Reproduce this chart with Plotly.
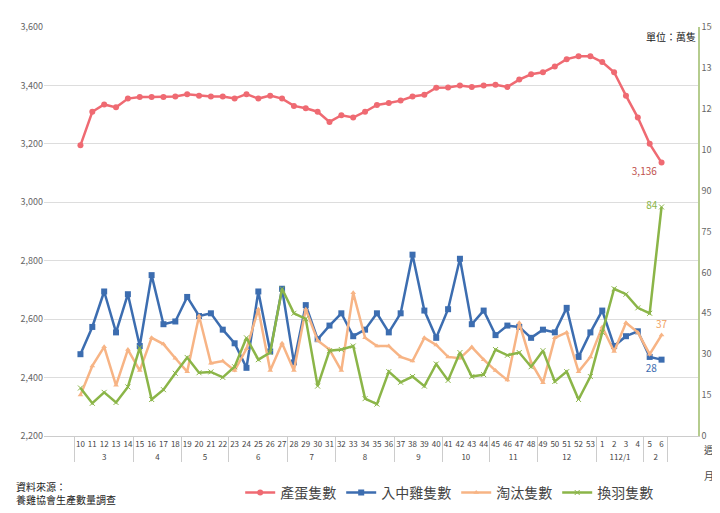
import plotly.graph_objects as go

# week / month categories
weeks = [str(w) for w in range(10, 54)] + [str(w) for w in range(1, 7)]
month_of_week = (["3"] * 5 + ["4"] * 4 + ["5"] * 4 + ["6"] * 5 + ["7"] * 4 + ["8"] * 5 +
                 ["9"] * 4 + ["10"] * 4 + ["11"] * 4 + ["12"] * 5 + ["112/1"] * 4 + ["2"] * 2)

# 產蛋隻數 (left axis)
eggs = [3195, 3310, 3335, 3325, 3355, 3360, 3360, 3360, 3362, 3370,
        3365, 3362, 3362, 3355, 3370, 3355, 3365, 3355, 3330, 3322,
        3310, 3275, 3298, 3290, 3310, 3333, 3340, 3348, 3362, 3368,
        3392, 3393, 3400, 3395, 3400, 3402, 3395, 3420, 3438, 3445,
        3465, 3490, 3500, 3500, 3480, 3445, 3365, 3290, 3200, 3136]
# 入中雞隻數 (right axis)
chicks = [30, 40, 53, 38, 52, 33, 59, 41, 42, 51,
          44, 45, 39, 34, 25, 53, 31, 54, 27, 48,
          35.5, 40.5, 45, 36.6, 39, 45, 38, 45, 66.5, 46,
          36, 46.5, 65, 41, 46, 37, 40.5, 40, 36, 39,
          38, 47, 29, 38, 46, 33, 36.6, 38.4, 29, 28]
# 淘汰隻數
culled = [15, 25.7, 32.7, 18.6, 31.7, 24, 36, 33.7, 28.5, 23.6,
          44, 26.7, 27.5, 24, 32, 46.5, 24, 34, 24, 46.5,
          35, 31.7, 24, 52.5, 36, 33, 33, 29, 27.5, 36,
          33.4, 29, 28.5, 32.6, 28, 24, 20.5, 41.5, 27, 19.5,
          36, 38, 23.6, 29, 40, 31, 41.5, 38, 30, 37]
# 換羽隻數
molted = [17.6, 12, 16, 12.3, 18, 32.4, 13.4, 17, 23, 28.8,
          23.2, 23.5, 21.5, 25.4, 36, 28, 30.6, 54, 45, 43,
          18.3, 31.3, 31.7, 33, 13.7, 11.7, 23.6, 19.7, 21.8, 18.3,
          26.4, 20.4, 30.6, 21.8, 22.5, 31.7, 29.6, 30.6, 25.4, 31.3,
          20, 23.6, 13.4, 21.8, 38, 54, 52, 47, 45, 84]

x = [month_of_week, weeks]
n = len(weeks)


def end_label(vals, fmt):
    return [""] * (n - 1) + [fmt.format(vals[-1])]


fig = go.Figure()
fig.add_trace(go.Scatter(x=x, y=eggs, name="產蛋隻數", mode="lines+markers+text",
                         line=dict(color="#EF6A72", width=2.5), marker=dict(symbol="circle", size=6),
                         text=end_label(eggs, "{:,}"), textposition="bottom left",
                         textfont=dict(color="#C0504D", size=10)))
fig.add_trace(go.Scatter(x=x, y=chicks, name="入中雞隻數", yaxis="y2", mode="lines+markers+text",
                         line=dict(color="#3C6DB0", width=2.5), marker=dict(symbol="square", size=6),
                         text=end_label(chicks, "{:g}"), textposition="bottom left",
                         textfont=dict(color="#3C6DB0", size=10)))
fig.add_trace(go.Scatter(x=x, y=culled, name="淘汰隻數", yaxis="y2", mode="lines+markers+text",
                         line=dict(color="#F7B485", width=2.5), marker=dict(symbol="triangle-up", size=5),
                         text=end_label(culled, "{:g}"), textposition="top center",
                         textfont=dict(color="#F0A060", size=10)))
fig.add_trace(go.Scatter(x=x, y=molted, name="換羽隻數", yaxis="y2", mode="lines+markers+text",
                         line=dict(color="#8BB548", width=2.5), marker=dict(symbol="x-thin", size=5,
                                                                            line=dict(color="#8BB548", width=1)),
                         text=end_label(molted, "{:g}"), textposition="middle left",
                         textfont=dict(color="#8BB548", size=10)))

font = "Noto Sans CJK TC"
fig.update_layout(
    width=720, height=513, paper_bgcolor="white", plot_bgcolor="white",
    margin=dict(l=36, r=30, t=19, b=60),
    font=dict(family=font, size=10, color="#555"),
    xaxis=dict(type="multicategory", showgrid=False, tickfont=dict(size=8, color="#444"),
               tickangle=0, nticks=100,
               showline=True, linecolor="#ccc", dividercolor="#ccc", dividerwidth=1),
    yaxis=dict(range=[2200, 3600], dtick=200, tickformat=",", gridcolor="#ddd",
               tickfont=dict(size=9, color="#666"), zeroline=False),
    yaxis2=dict(range=[0, 150], dtick=15, overlaying="y", side="right", showgrid=False,
                showline=True, linecolor="#B5CC8E", linewidth=1.5,
                tickfont=dict(size=9, color="#666"), zeroline=False),
    legend=dict(orientation="h", x=0.3, y=-0.1, xanchor="left", yanchor="top",
                font=dict(size=14, color="#444"), traceorder="normal"),
    annotations=[
        dict(text="單位：萬隻", x=1, y=1, xref="paper", yref="paper", xanchor="right", yanchor="top",
             showarrow=False, font=dict(size=10, color="#222")),
        dict(text="資料來源：<br>養雞協會生產數量調查", x=0, y=-0.1, xref="paper", yref="paper",
             xanchor="left", yanchor="top", xshift=-30, showarrow=False, align="left",
             font=dict(size=10, color="#222")),
        dict(text="週<br><br>月", x=1, y=0, xref="paper", yref="paper", xanchor="left", yanchor="top",
             xshift=4, yshift=-4, showarrow=False, font=dict(size=10, color="#444")),
    ],
)

fig.write_html("out.html")
